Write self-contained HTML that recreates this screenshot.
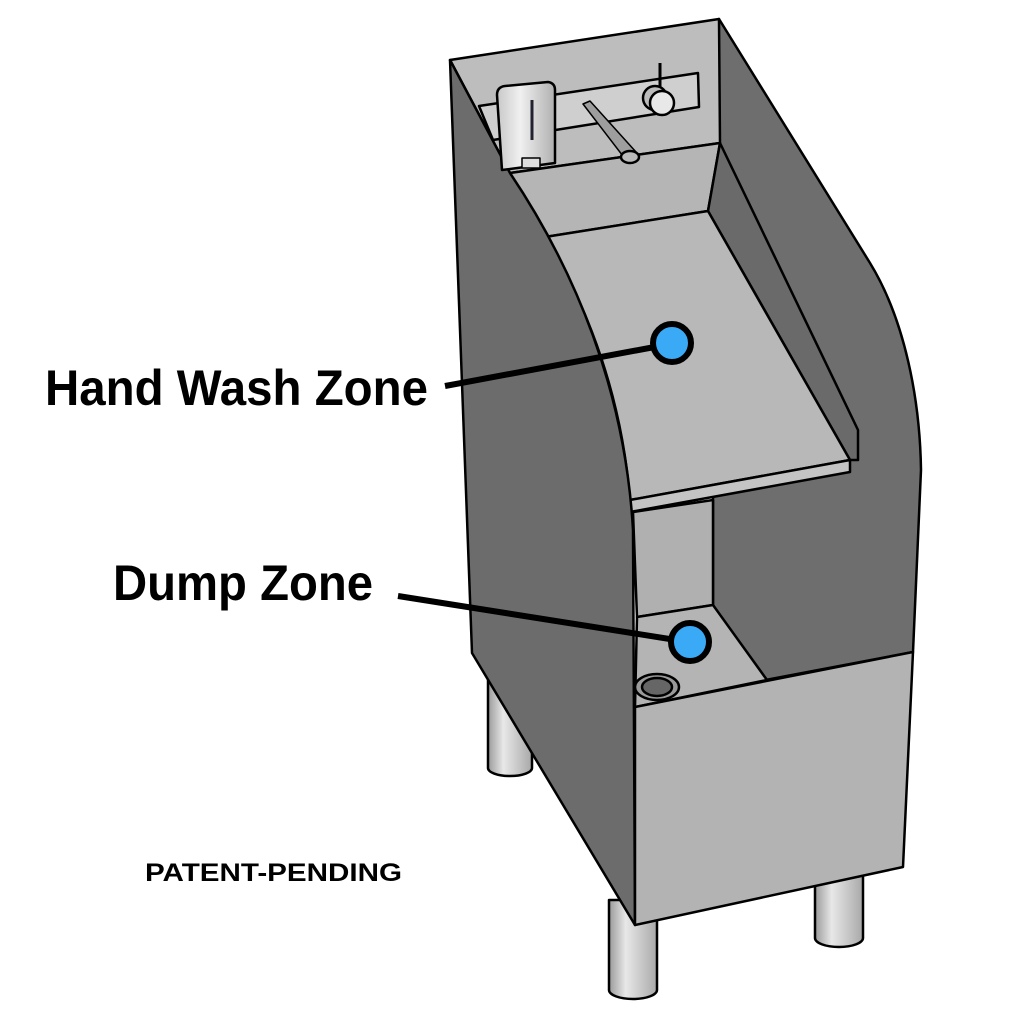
<!DOCTYPE html>
<html><head><meta charset="utf-8"><style>html,body{margin:0;padding:0;background:#fff;width:1024px;height:1024px;overflow:hidden}</style></head>
<body>
<svg width="1024" height="1024" viewBox="0 0 1024 1024" xmlns="http://www.w3.org/2000/svg">
<defs>
<linearGradient id="leg" x1="0" x2="1"><stop offset="0" stop-color="#9a9a9a"/><stop offset="0.35" stop-color="#e8e8e8"/><stop offset="1" stop-color="#a8a8a8"/></linearGradient>
<linearGradient id="disp" x1="0" x2="1"><stop offset="0" stop-color="#c8c8c8"/><stop offset="0.4" stop-color="#f0f0f0"/><stop offset="1" stop-color="#b0b0b0"/></linearGradient>
</defs>
<g stroke="#000" stroke-width="2.5" stroke-linejoin="round">
<path d="M488 680 L488 768 A22 8 0 0 0 532 768 L532 680 Z" fill="url(#leg)"/>
<path d="M609 900 L609 990 A24 9 0 0 0 657 990 L657 900 Z" fill="url(#leg)"/>
<path d="M815 860 L815 938 A24 9 0 0 0 863 938 L863 860 Z" fill="url(#leg)"/>
<path d="M719 19 L870 263 C905 320 920 400 921 470 L913 652 L713 690 L713 143 Z" fill="#6e6e6e"/>
<path d="M450 60 L719 19 L720 143 L510 173 Z" fill="#bdbdbd"/>
<path d="M510 173 L720 143 L708 211 L545 237 Z" fill="#b5b5b5"/>
<path d="M720 143 L858 430 L858 460 L850 460 L708 211 Z" fill="#6a6a6a"/>
<path d="M545 237 L708 211 L850 460 L630 500 C622 400 590 310 545 237 Z" fill="#b8b8b8"/>
<path d="M630 500 L850 460 L850 472 L630 512 Z" fill="#c4c4c4"/>
<path d="M633 512 L713 500 L713 605 L637 617 Z" fill="#b0b0b0"/>
<path d="M637 617 L713 605 L767 680 L635 707 Z" fill="#b4b4b4"/>
<path d="M450 60 L510 173 C575 270 625 390 633 530 L635 925 L472 653 Z" fill="#6c6c6c"/>
<path d="M635 707 L913 652 L903 867 L635 925 Z" fill="#b3b3b3"/>
<ellipse cx="657" cy="687" rx="22" ry="13" fill="#9a9a9a"/>
<ellipse cx="657" cy="687" rx="15" ry="9" fill="#666"/>
<path d="M479 106 L698 73 L699 107 L493 140 Z" fill="#cfcfcf"/>
<path d="M497 95 Q497 87 505 86 L548 82 Q555 83 555 90 L555 163 L502 170 Z" fill="url(#disp)"/>
<line x1="532" y1="100" x2="532" y2="140" stroke="#223" stroke-width="3"/>
<rect x="522" y="158" width="18" height="10" fill="#ddd" stroke-width="1.5"/>
<path d="M583 104 L590 101 L636 152 L626 160 Z" fill="#9e9e9e" stroke-width="1.5"/>
<ellipse cx="630" cy="157" rx="9" ry="6" fill="#bbb"/>
<line x1="660" y1="63" x2="660" y2="88" stroke-width="3"/>
<circle cx="655" cy="98" r="12" fill="#bbb"/>
<circle cx="662" cy="103" r="12" fill="#e8e8e8"/>
</g>
<line x1="445" y1="386" x2="660" y2="346" stroke="#000" stroke-width="6"/>
<circle cx="672" cy="343" r="19" fill="#3aaaf7" stroke="#000" stroke-width="6"/>
<line x1="398" y1="596" x2="676" y2="640" stroke="#000" stroke-width="6"/>
<circle cx="690" cy="642" r="19" fill="#3aaaf7" stroke="#000" stroke-width="6"/>
<g font-family="'Liberation Sans', sans-serif" font-weight="bold" fill="#000">
<text x="45" y="405" font-size="50" textLength="383" lengthAdjust="spacingAndGlyphs">Hand Wash Zone</text>
<text x="113" y="600" font-size="50" textLength="260" lengthAdjust="spacingAndGlyphs">Dump Zone</text>
<text x="145" y="881" font-size="25" textLength="257" lengthAdjust="spacingAndGlyphs">PATENT-PENDING</text>
</g>
</svg>
</body></html>
